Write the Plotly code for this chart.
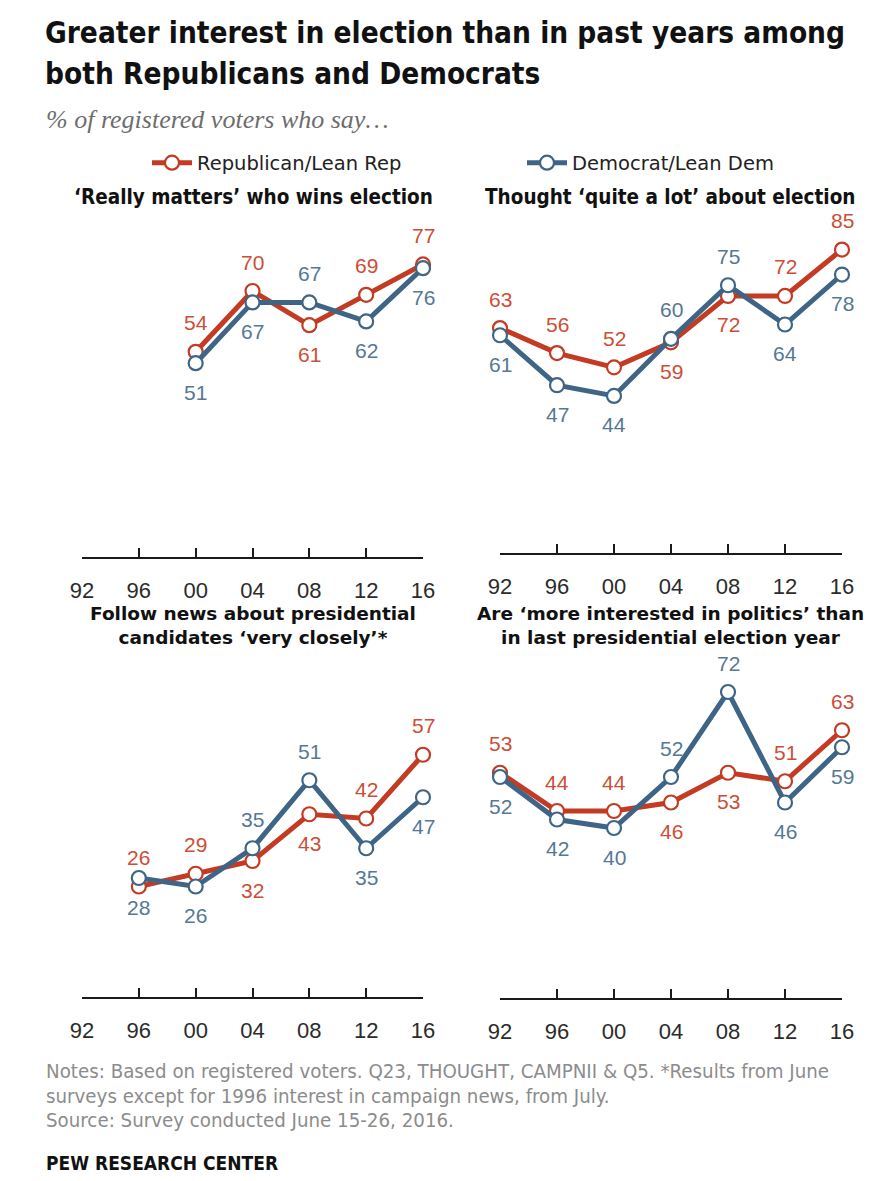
import plotly.graph_objects as go

W, H = 878, 1181
OFF = 8  # page body margin offset

years = [1992, 1996, 2000, 2004, 2008, 2012, 2016]
year_labels = ["92", "96", "00", "04", "08", "12", "16"]

# Panel 1: 'Really matters' who wins election (2000-2016)
p1_years = [2000, 2004, 2008, 2012, 2016]
p1_rep = [54, 70, 61, 69, 77]
p1_dem = [51, 67, 67, 62, 76]

# Panel 2: Thought 'quite a lot' about election (1992-2016)
p2_years = [1992, 1996, 2000, 2004, 2008, 2012, 2016]
p2_rep = [63, 56, 52, 59, 72, 72, 85]
p2_dem = [61, 47, 44, 60, 75, 64, 78]

# Panel 3: Follow news about presidential candidates 'very closely' (1996-2016)
p3_years = [1996, 2000, 2004, 2008, 2012, 2016]
p3_rep = [26, 29, 32, 43, 42, 57]
p3_dem = [28, 26, 35, 51, 35, 47]

# Panel 4: More interested in politics than last presidential election year
p4_years = [1992, 1996, 2000, 2004, 2008, 2012, 2016]
p4_rep = [53, 44, 44, 46, 53, 51, 63]
p4_dem = [52, 42, 40, 52, 72, 46, 59]

# label placement (+1 above, -1 below)
p1_rep_pos = [1, 1, -1, 1, 1]
p1_dem_pos = [-1, -1, 1, -1, -1]
p2_rep_pos = [1, 1, 1, -1, -1, 1, 1]
p2_dem_pos = [-1, -1, -1, 1, 1, -1, -1]
p3_rep_pos = [1, 1, -1, -1, 1, 1]
p3_dem_pos = [-1, -1, 1, 1, -1, -1]
p4_rep_pos = [1, 1, 1, -1, -1, 1, 1]
p4_dem_pos = [-1, -1, -1, 1, 1, -1, -1]

panel_titles = [
    "\u2018Really matters\u2019 who wins election",
    "Thought \u2018quite a lot\u2019 about election",
    "Follow news about presidential<br>candidates \u2018very closely\u2019*",
    "Are \u2018more interested in politics\u2019 than<br>in last presidential election year",
]

title_lines = [
    "Greater interest in election than in past years among",
    "both Republicans and Democrats",
]
subtitle = "% of registered voters who say\u2026"
note_lines = [
    "Notes: Based on registered voters. Q23, THOUGHT, CAMPNII &amp; Q5. *Results from June",
    "surveys except for 1996 interest in campaign news, from July.",
    "Source: Survey conducted June 15-26, 2016.",
]

REP_LINE = "#c23b22"
DEM_LINE = "#3e6585"
REP_TXT = "#cc4e36"
DEM_TXT = "#557895"

COND = "DejaVu Sans Condensed, Liberation Sans Narrow, Arial Narrow, sans-serif"
WIDE = "DejaVu Sans, Verdana, sans-serif"

def px_x(v):
    return (v - OFF) / W

def px_y(v):
    return 1 - (v - OFF) / H

# panel geometry: (x_left, x_right, y_bottom(axis line), y_top, px per unit)
geom = [
    (82, 423, 557, 230, 3.8),
    (500, 842, 553, 230, 3.57),
    (82, 423, 997, 680, 4.25),
    (500, 842, 998, 680, 4.25),
]

panels = [
    (p1_years, p1_rep, p1_dem, p1_rep_pos, p1_dem_pos),
    (p2_years, p2_rep, p2_dem, p2_rep_pos, p2_dem_pos),
    (p3_years, p3_rep, p3_dem, p3_rep_pos, p3_dem_pos),
    (p4_years, p4_rep, p4_dem, p4_rep_pos, p4_dem_pos),
]

fig = go.Figure()
annotations = []
layout_axes = {}

for i, ((yrs, rep, dem, rpos, dpos), (xl, xr, yb, yt, ppu)) in enumerate(zip(panels, geom)):
    n = i + 1
    xa = "x" if n == 1 else f"x{n}"
    ya = "y" if n == 1 else f"y{n}"
    xkey = "xaxis" if n == 1 else f"xaxis{n}"
    ykey = "yaxis" if n == 1 else f"yaxis{n}"
    layout_axes[xkey] = dict(
        domain=[px_x(xl), px_x(xr)], range=[1992, 2016], anchor=ya,
        tickvals=years, ticktext=year_labels, showgrid=False, zeroline=False,
        showline=True, linecolor="#1a1a1a", linewidth=2,
        ticks="inside", ticklen=9, tickwidth=2, tickcolor="#1a1a1a",
        tickfont=dict(family="Liberation Sans, Arial, sans-serif", size=22, color="#2b2b2b"),
        ticklabelstandoff=13, fixedrange=True, automargin=False,
    )
    layout_axes[ykey] = dict(
        domain=[px_y(yb), px_y(yt)], range=[0, (yb - yt) / ppu], anchor=xa,
        visible=False, fixedrange=True,
    )
    for name, vals, pos, lc, tc, lg in [
        ("Republican/Lean Rep", rep, rpos, REP_LINE, REP_TXT, "legend"),
        ("Democrat/Lean Dem", dem, dpos, DEM_LINE, DEM_TXT, "legend2"),
    ]:
        fig.add_trace(go.Scatter(
            x=yrs, y=vals, xaxis=xa, yaxis=ya, name=name, legend=lg,
            mode="lines+markers", cliponaxis=False,
            line=dict(color=lc, width=5),
            marker=dict(size=14, color="white", line=dict(color=lc, width=2.2)),
            showlegend=(n == 1), hoverinfo="skip",
        ))
        for xv, yv, p in zip(yrs, vals, pos):
            annotations.append(dict(
                x=xv, y=yv, xref=xa, yref=ya, text=str(yv), showarrow=False,
                yshift=29 * p, font=dict(family="Liberation Sans, Arial, sans-serif", size=21, color=tc),
            ))

def paper_text(x, y, text, font, xanchor="left", align="left"):
    annotations.append(dict(x=px_x(x), y=px_y(y), xref="paper", yref="paper", text=text,
                            showarrow=False, xanchor=xanchor, yanchor="middle", align=align, font=font))

# panel titles
title_font_top = dict(family=COND, size=20.5, color="#111", weight="bold")
title_font_bot = dict(family=WIDE, size=18.5, color="#111", weight="bold")
paper_text(253, 197, panel_titles[0], title_font_top, "center", "center")
paper_text(670, 197, panel_titles[1], title_font_top, "center", "center")
paper_text(253, 625, panel_titles[2], title_font_bot, "center", "center")
paper_text(670, 625, panel_titles[3], title_font_bot, "center", "center")

# main title
main_font = dict(family=COND, size=29.5, color="#111", weight="bold")
paper_text(43, 33, title_lines[0], main_font)
paper_text(43, 74, title_lines[1], main_font)
paper_text(44, 120, "<i>" + subtitle + "</i>",
           dict(family="Liberation Serif, Georgia, serif", size=26, color="#6d6d6d"))
# notes
note_font = dict(family=COND, size=20.3, color="#8c8c8c")
for k, ln in enumerate(note_lines):
    paper_text(44, 1071 + 24.5 * k, ln, note_font)
paper_text(44, 1163, "PEW RESEARCH CENTER",
           dict(family=COND, size=19, color="#111", weight="bold"))

legend_common = dict(
    orientation="h", yanchor="middle", xanchor="left",
    itemwidth=40, font=dict(family="DejaVu Sans, Tahoma, sans-serif", size=19.5, color="#222"),
    bgcolor="rgba(0,0,0,0)", borderwidth=0,
)

fig.update_layout(
    width=W, height=H, margin=dict(l=0, r=0, t=0, b=0, autoexpand=False),
    paper_bgcolor="white", plot_bgcolor="white",
    annotations=annotations,
    showlegend=True,
    legend=dict(x=px_x(147), y=px_y(163), **legend_common),
    legend2=dict(x=px_x(522), y=px_y(163), **legend_common),
    **layout_axes,
)

fig.write_html("out.html")
